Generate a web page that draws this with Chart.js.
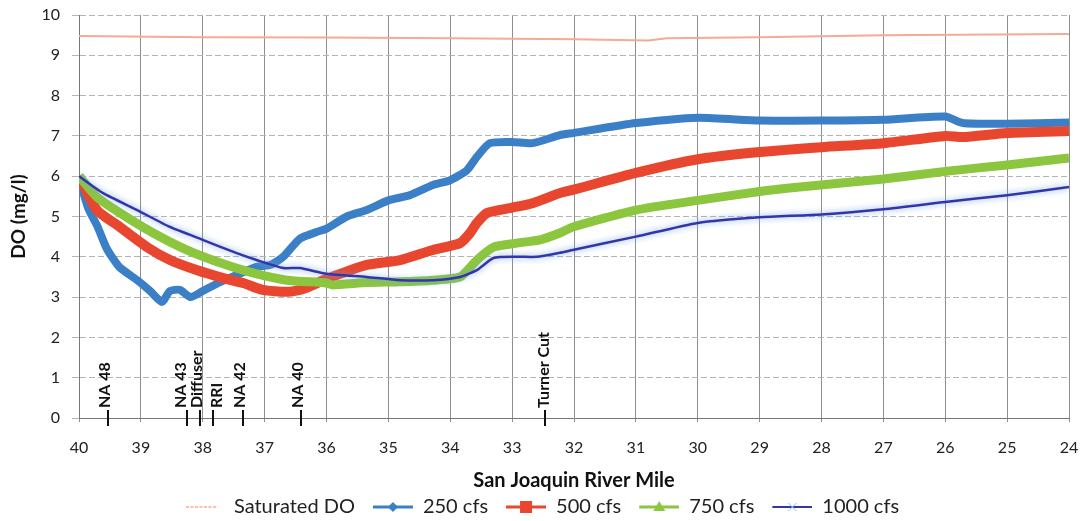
<!DOCTYPE html>
<html>
<head>
<meta charset="utf-8">
<script src="https://cdn.jsdelivr.net/npm/chart.js@4.4.1/dist/chart.umd.min.js"></script>
<style>
  html, body { margin: 0; padding: 0; background: #ffffff; }
  #wrap { width: 1086px; height: 521px; position: relative; }
</style>
</head>
<body>
<div id="wrap"><canvas id="chart" width="1086" height="521"></canvas></div>
<script>
// River mile / dissolved oxygen profiles for four flow rates
const satMiles = [40, 38, 36, 34, 32, 30.8, 30.5, 29, 27, 24];
const satDO    = [9.48, 9.45, 9.44, 9.42, 9.40, 9.37, 9.42, 9.45, 9.50, 9.53];

const miles250 = [40, 39.95, 39.85, 39.7, 39.55, 39.35, 39.06, 38.85, 38.66, 38.53, 38.37, 38.2, 38.0, 37.75, 37.45, 37.13, 36.9, 36.7, 36.43, 36.15, 36.0, 35.67, 35.35, 35.0, 34.65, 34.28, 34.0, 33.73, 33.57, 33.36, 33.0, 32.67, 32.23, 32.02, 31.0, 30.0, 29.0, 28.0, 27.0, 26.0, 25.72, 25.0, 24.0];
const do250    = [6.0, 5.7, 5.2, 4.75, 4.2, 3.75, 3.42, 3.15, 2.88, 3.15, 3.18, 3.0, 3.15, 3.35, 3.55, 3.75, 3.8, 4.0, 4.45, 4.62, 4.7, 5.0, 5.16, 5.4, 5.53, 5.78, 5.9, 6.15, 6.48, 6.82, 6.85, 6.82, 7.02, 7.07, 7.32, 7.45, 7.38, 7.38, 7.4, 7.48, 7.32, 7.3, 7.33];

const miles500 = [40, 39.71, 39.34, 38.9, 38.53, 38.1, 37.67, 37.35, 37.03, 36.64, 36.38, 36.0, 35.7, 35.35, 34.81, 34.28, 33.84, 33.68, 33.57, 33.4, 33.0, 32.67, 32.23, 32.02, 31.0, 30.0, 29.0, 28.0, 27.0, 26.0, 25.72, 25.0, 24.0];
const do500    = [6.0, 5.16, 4.74, 4.24, 3.92, 3.67, 3.47, 3.35, 3.18, 3.13, 3.2, 3.45, 3.62, 3.8, 3.92, 4.17, 4.34, 4.59, 4.84, 5.09, 5.22, 5.33, 5.58, 5.66, 6.08, 6.42, 6.6, 6.72, 6.82, 7.0, 6.97, 7.07, 7.12];

const miles750 = [40, 39.71, 39.34, 38.8, 38.26, 37.72, 37.19, 36.64, 36.0, 35.9, 35.35, 34.81, 34.28, 33.84, 33.57, 33.3, 32.92, 32.55, 32.23, 32.02, 31.0, 30.0, 29.0, 28.35, 27.0, 26.0, 25.0, 24.0];
const do750    = [6.0, 5.48, 5.09, 4.59, 4.17, 3.85, 3.6, 3.42, 3.35, 3.3, 3.36, 3.38, 3.42, 3.5, 3.92, 4.24, 4.34, 4.42, 4.59, 4.74, 5.16, 5.4, 5.62, 5.73, 5.93, 6.12, 6.28, 6.45];

const miles1000 = [40, 39.61, 39.06, 38.53, 38.0, 37.45, 37.13, 36.7, 36.43, 36.0, 35.35, 34.81, 34.28, 33.84, 33.57, 33.3, 32.92, 32.6, 32.23, 32.02, 31.0, 30.0, 29.0, 28.0, 27.0, 26.0, 25.0, 24.0];
const do1000    = [6.0, 5.58, 5.16, 4.74, 4.42, 4.09, 3.92, 3.72, 3.72, 3.58, 3.5, 3.42, 3.42, 3.5, 3.67, 3.97, 4.0, 4.0, 4.1, 4.17, 4.5, 4.84, 4.98, 5.05, 5.18, 5.36, 5.53, 5.73];

// Landmarks along the river
const siteNames = ['NA 48', 'NA 43', 'Diffuser', 'RRI', 'NA 42', 'NA 40', 'Turner Cut'];
const siteMiles = [39.53, 38.25, 38.05, 37.83, 37.35, 36.41, 32.47];

const seriesNames = ['Saturated DO', '250 cfs', '500 cfs', '750 cfs', '1000 cfs'];
const xTicks = { min: 24, max: 40, step: 1 };
const yTicks = { min: 0, max: 10, step: 1 };

const FONT = 'Lato, "Open Sans", sans-serif';

function pairs(xs, ys) { return xs.map((m, i) => ({ x: m, y: ys[i] })); }

// Small legend swatches: line segment with the series marker
function makeIcon(kind, color) {
  const c = document.createElement('canvas');
  c.width = 54; c.height = 16;
  const g = c.getContext('2d');
  const x0 = 14, x1 = 54, cy = 8, cx = (x0 + x1) / 2;
  g.strokeStyle = color;
  g.fillStyle = color;
  if (kind === 'sat') {
    g.lineWidth = 1.5;
    g.setLineDash([3, 1.5]);
    g.beginPath(); g.moveTo(x0 + 2, cy); g.lineTo(x1 - 6, cy); g.stroke();
    return c;
  }
  g.lineWidth = kind === 'x' ? 2 : 3;
  g.beginPath(); g.moveTo(x0, cy); g.lineTo(x1, cy); g.stroke();
  g.beginPath();
  if (kind === 'diamond') {
    g.moveTo(cx, cy - 5); g.lineTo(cx + 5, cy); g.lineTo(cx, cy + 5); g.lineTo(cx - 5, cy); g.closePath(); g.fill();
  } else if (kind === 'square') {
    g.fillRect(cx - 6, cy - 6, 12, 12);
  } else if (kind === 'triangle') {
    g.moveTo(cx, cy - 6); g.lineTo(cx + 6, cy + 4); g.lineTo(cx - 6, cy + 4); g.closePath(); g.fill();
  } else if (kind === 'x') {
    g.strokeStyle = '#8fb9e8'; g.lineWidth = 1;
    g.moveTo(cx - 4, cy - 4); g.lineTo(cx + 4, cy + 4); g.moveTo(cx + 4, cy - 4); g.lineTo(cx - 4, cy + 4); g.stroke();
  }
  return c;
}

const COLORS = {
  sat: '#f6a994',
  c250: '#3b7fc6',
  c500: '#e8462f',
  c750: '#8cc63f',
  c1000: '#3535aa'
};

const legendIcons = [
  makeIcon('sat', COLORS.sat),
  makeIcon('diamond', COLORS.c250),
  makeIcon('square', COLORS.c500),
  makeIcon('triangle', COLORS.c750),
  makeIcon('x', COLORS.c1000)
];

// Soft halo around the 1000 cfs line (its dense cross markers)
const haloPlugin = {
  id: 'halo',
  beforeDatasetDraw(chart, args) {
    if (args.index === 4) {
      const ctx = chart.ctx;
      ctx.save();
      ctx.shadowColor = 'rgba(110,165,230,0.95)';
      ctx.shadowBlur = 6;
    }
  },
  afterDatasetDraw(chart, args) {
    if (args.index === 4) chart.ctx.restore();
  }
};

// Landmark ticks on the zero line with vertical labels
const sitePlugin = {
  id: 'sites',
  afterDatasetsDraw(chart, args, opts) {
    const { ctx, scales: { x, y } } = chart;
    const y0 = y.getPixelForValue(0);
    ctx.save();
    ctx.strokeStyle = '#111';
    ctx.fillStyle = '#111';
    ctx.lineWidth = 2;
    ctx.font = 'bold 16px ' + FONT;
    siteNames.forEach((name, i) => {
      const px = Math.round(x.getPixelForValue(siteMiles[i]));
      ctx.beginPath();
      ctx.moveTo(px, y0 - 8);
      ctx.lineTo(px, y0 + 8);
      ctx.stroke();
      ctx.save();
      ctx.translate(px + (opts.shift[i] || 0), y0 - 10);
      ctx.rotate(-Math.PI / 2);
      ctx.textAlign = 'left';
      ctx.textBaseline = 'middle';
      ctx.fillText(name, 0, 0);
      ctx.restore();
    });
    ctx.restore();
  }
};

const lineBase = { showLine: true, pointRadius: 0, pointHoverRadius: 0, tension: 0.2, fill: false };

new Chart(document.getElementById('chart'), {
  type: 'scatter',
  data: {
    datasets: [
      { ...lineBase, label: seriesNames[0], data: pairs(satMiles, satDO), borderColor: COLORS.sat, borderWidth: 2, tension: 0, order: 4 },
      { ...lineBase, label: seriesNames[1], data: pairs(miles250, do250), borderColor: COLORS.c250, borderWidth: 8, order: 3 },
      { ...lineBase, label: seriesNames[2], data: pairs(miles500, do500), borderColor: COLORS.c500, borderWidth: 10, order: 2 },
      { ...lineBase, label: seriesNames[3], data: pairs(miles750, do750), borderColor: COLORS.c750, borderWidth: 9, order: 1 },
      { ...lineBase, label: seriesNames[4], data: pairs(miles1000, do1000), borderColor: COLORS.c1000, borderWidth: 2.5, order: 0 }
    ]
  },
  options: {
    responsive: false,
    animation: false,
    events: [],
    layout: { padding: { top: 15, right: 17, bottom: 0, left: 0 } },
    scales: {
      x: {
        type: 'linear',
        reverse: true,
        min: xTicks.min,
        max: xTicks.max,
        afterFit(scale) { scale.height = 75; scale.paddingLeft = 0; scale.paddingRight = 0; },
        ticks: { stepSize: xTicks.step, color: '#222', padding: 16, font: { family: FONT, size: 16 } },
        grid: { color: '#8e8e8e', lineWidth: 1, tickLength: 4 },
        border: { color: '#777', width: 1 },
        title: { display: true, text: 'San Joaquin River Mile', color: '#111', font: { family: FONT, size: 20, weight: 'bold' }, padding: { top: 4, bottom: 0 } }
      },
      y: {
        min: yTicks.min,
        max: yTicks.max,
        afterFit(scale) { scale.width = 79; scale.paddingTop = 0; scale.paddingBottom = 0; },
        ticks: { stepSize: yTicks.step, color: '#222', padding: 12, font: { family: FONT, size: 16 } },
        grid: { color: '#b4b4b4', lineWidth: 1, tickLength: 7 },
        border: { color: '#777', width: 1, dash: [6, 3] },
        title: { display: true, text: 'DO (mg/l)', color: '#111', font: { family: FONT, size: 19, weight: 'bold' }, padding: { top: 7, bottom: 0 } }
      }
    },
    plugins: {
      tooltip: { enabled: false },
      sites: { shift: [-3, -6, -3, 4, -3, -3, -1] },
      legend: {
        position: 'bottom',
        maxHeight: 28,
        labels: {
          usePointStyle: true,
          pointStyleWidth: 54,
          padding: 4,
          color: '#222',
          font: { family: FONT, size: 20 },
          sort: (a, b) => a.datasetIndex - b.datasetIndex,
          generateLabels(chart) {
            const items = Chart.defaults.plugins.legend.labels.generateLabels(chart);
            items.forEach(it => { it.pointStyle = legendIcons[it.datasetIndex]; it.lineWidth = 0; });
            return items;
          }
        }
      }
    }
  },
  plugins: [haloPlugin, sitePlugin]
});
</script>
</body>
</html>
